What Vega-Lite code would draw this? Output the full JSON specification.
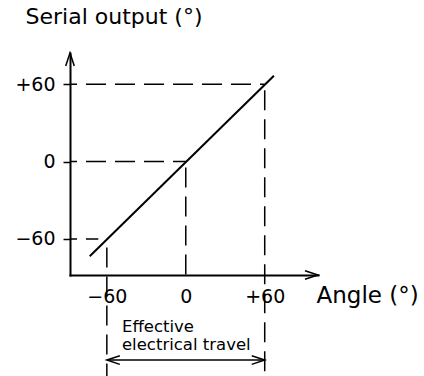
{
  "$schema": "https://vega.github.io/schema/vega-lite/v6.json",
  "width": 248,
  "height": 222,
  "autosize": {"type": "none"},
  "padding": {"left": 70, "top": 53, "right": 106, "bottom": 101},
  "background": "white",
  "config": {
    "view": {"stroke": null},
    "font": "DejaVu Sans",
    "axis": {
      "domainColor": "black",
      "domainWidth": 2,
      "domainCap": "square",
      "tickColor": "black",
      "grid": false,
      "labelColor": "black",
      "titleColor": "black",
      "labelFont": "DejaVu Sans",
      "titleFont": "DejaVu Sans",
      "titleFontWeight": "normal"
    }
  },
  "datasets": {
    "response": [
      {"x": -73, "y": -73.5},
      {"x": 67, "y": 66.5}
    ],
    "hguides": [
      {"x": -88, "x2": 60, "y": 60},
      {"x": -88, "x2": 0, "y": 0},
      {"x": -88, "x2": -66.5, "y": -60}
    ],
    "vguides": [
      {"x": 60, "y": 60, "y2": -167},
      {"x": 0, "y": 0, "y2": -88},
      {"x": -60, "y": -62, "y2": -167}
    ],
    "dimension": [
      {"x": -60, "x2": 60, "y": -154}
    ],
    "arrows": [
      {"x": -88, "y": 84.2, "angle": 0},
      {"x": 100.5, "y": -88, "angle": 90},
      {"x": -60, "y": -154, "angle": 270},
      {"x": 60, "y": -154, "angle": 90}
    ],
    "notes": [
      {"x": -48.5, "y": -132, "label": "Effective\nelectrical travel"}
    ]
  },
  "encoding": {
    "x": {
      "field": "x",
      "type": "quantitative",
      "scale": {"domain": [-88, 100.5], "nice": false, "zero": false},
      "axis": {
        "values": [-60, 0, 60],
        "labelExpr": "datum.value > 0 ? '+' + datum.value : (datum.value < 0 ? '\u2212' + (-datum.value) : '0')",
        "ticks": false,
        "tickSize": 0,
        "labelPadding": 12,
        "labelFontSize": 19,
        "labelBaseline": "top",
        "labelFlush": false,
        "title": "Angle (°)",
        "titleFontSize": 23,
        "titleAlign": "left",
        "titleBaseline": "alphabetic",
        "titleX": 246,
        "titleY": 27
      }
    },
    "y": {
      "field": "y",
      "type": "quantitative",
      "scale": {"domain": [-88, 84.2], "nice": false, "zero": false},
      "axis": {
        "values": [-60, 0, 60],
        "labelExpr": "datum.value > 0 ? '+' + datum.value : (datum.value < 0 ? '\u2212' + (-datum.value) : '0')",
        "ticks": true,
        "tickSize": 7,
        "tickWidth": 1.5,
        "labelPadding": 8,
        "labelFontSize": 19,
        "labelBaseline": "middle",
        "labelFlush": false,
        "title": "Serial output (°)",
        "titleFontSize": 22,
        "titleAngle": 0,
        "titleAlign": "left",
        "titleBaseline": "alphabetic",
        "titleX": -45,
        "titleY": -30
      }
    }
  },
  "layer": [
    {
      "data": {"name": "hguides"},
      "mark": {"type": "rule", "color": "black", "strokeWidth": 1.5, "strokeDash": [20, 9], "strokeDashOffset": 13},
      "encoding": {"x2": {"field": "x2"}}
    },
    {
      "data": {"name": "vguides"},
      "mark": {"type": "rule", "color": "black", "strokeWidth": 1.5, "strokeDash": [20, 9], "strokeDashOffset": 23},
      "encoding": {"y2": {"field": "y2"}}
    },
    {
      "data": {"name": "dimension"},
      "mark": {"type": "rule", "color": "black", "strokeWidth": 1.5},
      "encoding": {"x2": {"field": "x2"}}
    },
    {
      "data": {"name": "response"},
      "mark": {"type": "line", "color": "black", "strokeWidth": 2},
      "encoding": {}
    },
    {
      "data": {"name": "arrows"},
      "mark": {"type": "point", "shape": "M-0.33,1L0,0L0.33,1", "filled": false, "stroke": "black", "strokeWidth": 1.5, "size": 676, "opacity": 1},
      "encoding": {"angle": {"field": "angle", "type": "quantitative", "scale": null}}
    },
    {
      "data": {"name": "notes"},
      "mark": {"type": "text", "align": "left", "baseline": "alphabetic", "fontSize": 16.5, "lineHeight": 18, "lineBreak": "\n", "color": "black"},
      "encoding": {"text": {"field": "label"}}
    }
  ]
}
